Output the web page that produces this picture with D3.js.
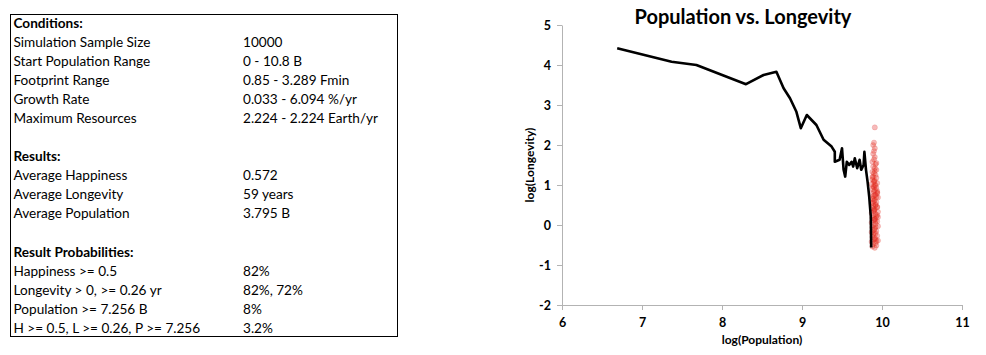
<!DOCTYPE html>
<html><head><meta charset="utf-8">
<script src="https://cdn.jsdelivr.net/npm/d3@7"></script>
<style>body{margin:0;background:#fff}svg{display:block}</style>
</head><body>
<svg id="c" width="986" height="355"></svg>
<script>
// ---- Table text ----
const tableRows = [
  ["Conditions:", "", true],
  ["Simulation Sample Size", "10000", false],
  ["Start Population Range", "0 - 10.8 B", false],
  ["Footprint Range", "0.85 - 3.289 Fmin", false],
  ["Growth Rate", "0.033 - 6.094 %/yr", false],
  ["Maximum Resources", "2.224 - 2.224 Earth/yr", false],
  ["", "", false],
  ["Results:", "", true],
  ["Average Happiness", "0.572", false],
  ["Average Longevity", "59 years", false],
  ["Average Population", "3.795 B", false],
  ["", "", false],
  ["Result Probabilities:", "", true],
  ["Happiness >= 0.5", "82%", false],
  ["Longevity > 0, >= 0.26 yr", "82%, 72%", false],
  ["Population >= 7.256 B", "8%", false],
  ["H >= 0.5, L >= 0.26, P >= 7.256", "3.2%", false]
];

// ---- Chart data ----
const title = "Population vs. Longevity";
const xTicks = [6, 7, 8, 9, 10, 11];
const yTicks = [-2, -1, 0, 1, 2, 3, 4, 5];
const lineX = [6.69, 7.37, 7.68, 8.30, 8.52, 8.68, 8.77, 8.85, 8.93, 8.985, 9.06, 9.18, 9.27, 9.37, 9.41, 9.41, 9.47, 9.50, 9.52, 9.54, 9.56, 9.59, 9.62, 9.64, 9.66, 9.69, 9.72, 9.74, 9.77, 9.78, 9.80, 9.82, 9.84, 9.86, 9.865];
const lineY = [4.42, 4.08, 4.00, 3.52, 3.75, 3.83, 3.42, 3.17, 2.83, 2.42, 2.75, 2.50, 2.13, 1.96, 1.83, 1.58, 1.63, 1.92, 1.38, 1.21, 1.58, 1.50, 1.58, 1.46, 1.67, 1.42, 1.63, 1.38, 1.50, 1.83, 1.38, 1.08, 0.71, 0.21, -0.56];
const scatX = [9.91, 9.90, 9.89, 9.91, 9.90, 9.89, 9.91, 9.90, 9.88, 9.92, 9.89, 9.91, 9.93, 9.88, 9.90, 9.92, 9.89, 9.93, 9.88, 9.91, 9.90, 9.94, 9.87, 9.92, 9.89, 9.93, 9.88, 9.91, 9.90, 9.94, 9.87, 9.92, 9.89, 9.95, 9.88, 9.91, 9.90, 9.93, 9.87, 9.92, 9.89, 9.94, 9.88, 9.91, 9.90, 9.95, 9.87, 9.92, 9.89, 9.93, 9.88, 9.91, 9.90, 9.94, 9.87, 9.92, 9.89, 9.95, 9.88, 9.91, 9.90, 9.93, 9.87, 9.92, 9.89, 9.94, 9.88, 9.91, 9.90, 9.95, 9.87, 9.92, 9.89, 9.93, 9.88, 9.91, 9.90, 9.94, 9.89, 9.92, 9.90, 9.95, 9.88, 9.91, 9.93, 9.90, 9.92, 9.89, 9.94, 9.91, 9.90, 9.93, 9.92, 9.94, 9.91, 9.93, 9.90, 9.92, 9.94, 9.91];
const scatY = [2.44, 2.06, 2.00, 1.92, 1.85, 1.78, 1.70, 1.64, 1.58, 1.52, 1.46, 1.42, 1.38, 1.33, 1.29, 1.25, 1.21, 1.18, 1.14, 1.11, 1.08, 1.05, 1.02, 0.99, 0.96, 0.93, 0.90, 0.87, 0.84, 0.81, 0.78, 0.75, 0.72, 0.69, 0.66, 0.63, 0.60, 0.57, 0.54, 0.51, 0.48, 0.45, 0.42, 0.39, 0.36, 0.33, 0.30, 0.27, 0.24, 0.21, 0.18, 0.15, 0.12, 0.09, 0.06, 0.03, 0.00, -0.03, -0.06, -0.09, -0.12, -0.15, -0.18, -0.21, -0.24, -0.27, -0.30, -0.33, -0.36, -0.39, -0.42, -0.45, -0.48, -0.51, -0.54, -0.57, 0.95, 0.80, 0.65, 0.50, 0.35, 0.20, 1.20, 1.00, 0.70, 0.40, 0.10, 0.55, 0.85, 0.15, -0.20, -0.40, -0.05, 0.25, 1.35, 1.55, 1.10, -0.35, 0.45, 0.75];

const svg = d3.select("#c");
const tfont = "Lato, 'Noto Sans', sans-serif";

// ---- Table ----
const tg = svg.append("g");
tg.append("rect").attr("x", 10.5).attr("y", 14.5).attr("width", 387).attr("height", 322)
  .attr("fill", "none").attr("stroke", "#000").attr("stroke-width", 1);
tableRows.forEach((r, i) => {
  const yy = 23.5 + i * 19.05;
  tg.append("text").attr("x", 13.5).attr("y", yy).attr("dy", "0.33em")
    .attr("font-family", tfont).attr("font-size", 13.6)
    .attr("font-weight", r[2] ? "bold" : "normal").attr("fill", "#000").text(r[0]);
  tg.append("text").attr("x", 243).attr("y", yy).attr("dy", "0.33em")
    .attr("font-family", tfont).attr("font-size", 13.6)
    .attr("fill", "#000").text(r[1]);
});

// ---- Chart ----
const x = d3.scaleLinear().domain([6, 11]).range([562, 962]);
const y = d3.scaleLinear().domain([-2, 5]).range([305, 25]);
const font = "Lato, 'Noto Sans', sans-serif";

const xAxis = svg.append("g").attr("transform", "translate(0,305)")
  .call(d3.axisBottom(x).tickValues(xTicks).tickFormat(d => String(d)).tickSize(5).tickSizeOuter(0));
const yAxis = svg.append("g").attr("transform", "translate(562,0)")
  .call(d3.axisLeft(y).tickValues(yTicks).tickFormat(d => String(d)).tickSize(5).tickSizeOuter(0));
[xAxis, yAxis].forEach(a => {
  a.select(".domain").attr("stroke", "#b3b3b3").attr("stroke-width", 1);
  a.selectAll(".tick line").attr("stroke", "#b3b3b3");
  a.selectAll("text").attr("font-family", font).attr("font-size", 12.5)
    .attr("font-weight", "bold").attr("fill", "#000");
});
xAxis.selectAll("text").attr("dy", "1.1em");
yAxis.selectAll("text").attr("x", -11);

// scatter
const defs = svg.append("defs");
defs.append("filter").attr("id", "blur").append("feGaussianBlur").attr("stdDeviation", 0.7);
svg.append("g").attr("filter", "url(#blur)").selectAll("circle")
  .data(scatX.map((v, i) => [v, scatY[i]]))
  .join("circle")
  .attr("cx", d => x(d[0])).attr("cy", d => y(d[1])).attr("r", 2.6)
  .attr("fill", "#e02418").attr("fill-opacity", 0.3)
  .attr("stroke", "#e02418").attr("stroke-opacity", 0.15);

// line
svg.append("path")
  .datum(lineX.map((v, i) => [v, lineY[i]]))
  .attr("d", d3.line().x(d => x(d[0])).y(d => y(d[1])))
  .attr("fill", "none").attr("stroke", "#000").attr("stroke-width", 2.6)
  .attr("stroke-linejoin", "round");

// titles
svg.append("text").attr("x", 743).attr("y", 17).attr("dy", "0.35em")
  .attr("text-anchor", "middle").attr("font-family", font).attr("font-size", 20)
  .attr("font-weight", "bold").text(title);
svg.append("text").attr("x", 762).attr("y", 340).attr("dy", "0.35em")
  .attr("text-anchor", "middle").attr("font-family", font).attr("font-size", 12)
  .attr("font-weight", "bold").text("log(Population)");
svg.append("text").attr("transform", "translate(530,165) rotate(-90)").attr("dy", "0.35em")
  .attr("text-anchor", "middle").attr("font-family", font).attr("font-size", 12)
  .attr("font-weight", "bold").text("log(Longevity)");
</script>
</body></html>
